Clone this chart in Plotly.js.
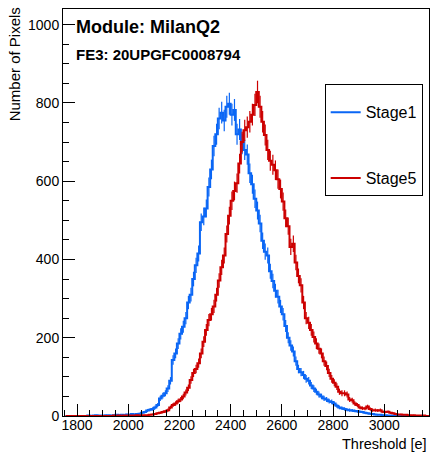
<!DOCTYPE html>
<html>
<head>
<meta charset="utf-8">
<script src="https://cdn.plot.ly/plotly-3.0.1.min.js"></script>
<style>html,body{margin:0;padding:0;background:#fff;}#chart{width:432px;height:455px;}</style>
</head>
<body>
<div id="chart"></div>
<script>
// Bin centres (bin width 10 e) from 1755 to 3165
var binStart = 1750, binWidth = 10;
var stage1Counts = [
  0,0,0,0,0,0,0,0,0,1,
  0,1,2,1,1,1,2,2,1,2,
  3,2,3,2,4,3,5,4,5,6,
  8,10,14,16,18,22,28,45,52,58,
  70,90,143,160,185,210,228,250,290,310,
  350,385,415,495,510,530,585,630,690,720,
  760,775,755,790,798,770,782,720,732,695,
  680,668,620,592,555,525,492,448,420,410,
  370,345,320,305,280,260,230,200,180,165,
  140,120,112,105,95,90,78,70,62,55,
  50,45,42,38,36,32,26,22,20,18,
  16,15,14,13,12,11,10,8,7,6,
  5,4,3,3,2,2,1,1,1,0,
  1,0,0,1,0,0,0,0,0,0,
  0,0,0
];
var stage5Counts = [
  0,0,0,0,0,0,0,0,0,0,
  0,0,0,0,0,0,0,0,0,1,
  0,1,0,1,1,1,1,1,2,1,
  2,2,2,3,4,5,7,8,10,12,
  15,22,28,32,38,42,50,60,72,92,
  110,120,135,160,190,220,245,260,280,310,
  346,380,410,465,512,550,575,595,645,700,
  730,738,752,770,795,828,790,752,718,680,
  652,642,628,605,580,548,505,485,432,440,
  392,358,334,290,250,238,220,202,185,172,
  160,140,128,110,95,85,75,62,58,58,
  55,42,40,32,28,22,20,19,24,18,
  15,15,14,15,11,10,11,8,7,5,
  4,4,3,3,2,2,2,1,1,1,
  1,0,0
];
var seriesNames = ["Stage1", "Stage5"];
var xTickVals = [1800, 2000, 2200, 2400, 2600, 2800, 3000];
var yTickVals = [0, 200, 400, 600, 800, 1000];

function centres(n){ var c=[]; for(var i=0;i<n;i++){ c.push(binStart + binWidth*(i+0.5)); } return c; }

var colBlue = "#0a66f5", colRed = "#cc0000";
var font = "Liberation Sans, Arial, Helvetica, sans-serif";

var traces = [
  {x: centres(stage1Counts.length), y: stage1Counts, name: seriesNames[0], type: "scatter", mode: "lines",
   line: {color: colBlue, width: 2, shape: "hvh"},
   error_y: {type: "sqrt", visible: true, color: colBlue, thickness: 1.2, width: 0},
   legendgroup: "a"},
  {x: centres(stage5Counts.length), y: stage5Counts, name: seriesNames[1], type: "scatter", mode: "lines",
   line: {color: colRed, width: 2, shape: "hvh"},
   error_y: {type: "sqrt", visible: true, color: colRed, thickness: 1.2, width: 0},
   legendgroup: "b"}
];

var layout = {
  width: 432, height: 455,
  margin: {l: 63, r: 3, t: 9, b: 39},
  paper_bgcolor: "#fff", plot_bgcolor: "#fff",
  font: {family: font, color: "#000", size: 14},
  showlegend: true,
  legend: {x: 0.715, y: 0.816, xanchor: "left", yanchor: "top",
           bordercolor: "#000", borderwidth: 1, bgcolor: "#fff",
           font: {family: font, size: 16, color: "#000"},
           title: {text: " ", font: {size: 8}},
           tracegroupgap: 42, traceorder: "grouped", itemwidth: 30},
  xaxis: {range: [1745, 3175], tickvals: xTickVals, ticks: "inside", ticklen: 12, tickwidth: 1,
          tickcolor: "#000", showline: true, linecolor: "#000", linewidth: 1, mirror: true,
          showgrid: false, zeroline: false, tickfont: {family: font, size: 14}, ticklabelstandoff: -4,
          minor: {dtick: 50, ticks: "inside", ticklen: 6, tickcolor: "#000", showgrid: false}},
  yaxis: {range: [0, 1040], tickvals: yTickVals, ticks: "inside", ticklen: 12, tickwidth: 1,
          tickcolor: "#000", showline: true, linecolor: "#000", linewidth: 1, mirror: true,
          showgrid: false, zeroline: false, tickfont: {family: font, size: 14},
          minor: {dtick: 50, ticks: "inside", ticklen: 6, tickcolor: "#000", showgrid: false}},
  annotations: [
    {text: "Module: MilanQ2", xref: "paper", yref: "paper", x: 0.029, y: 0.955, xanchor: "left", yanchor: "middle",
     showarrow: false, font: {family: font, size: 18, color: "#000", weight: "bold"}},
    {text: "FE3: 20UPGFC0008794", xref: "paper", yref: "paper", x: 0.029, y: 0.887, xanchor: "left", yanchor: "middle",
     showarrow: false, font: {family: font, size: 15, color: "#000", weight: "bold"}},
    {text: "Threshold [e]", xref: "paper", yref: "paper", x: 1.0, y: -0.07, xanchor: "right", yanchor: "middle",
     showarrow: false, font: {family: font, size: 14.5, color: "#000"}},
    {text: "Number of Pixels", xref: "paper", yref: "paper", x: -0.13, y: 1.01, xanchor: "center", yanchor: "top",
     textangle: -90, showarrow: false, font: {family: font, size: 15, color: "#000"}}
  ]
};

Plotly.newPlot("chart", traces, layout, {displayModeBar: false, staticPlot: true});
</script>
</body>
</html>
